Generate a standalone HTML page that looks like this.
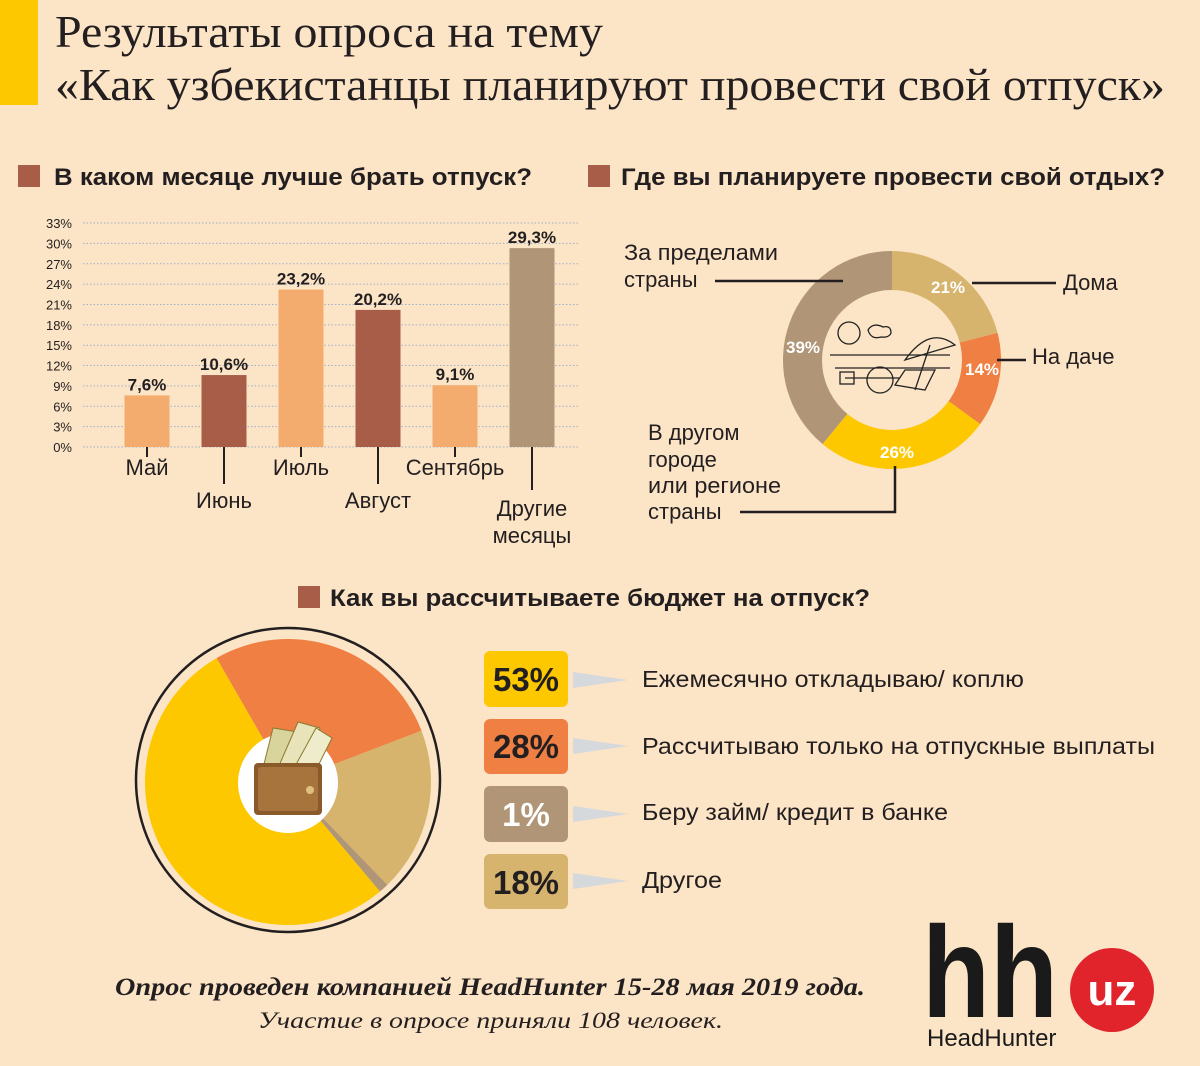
<!DOCTYPE html>
<html><head><meta charset="utf-8"><style>
html,body{margin:0;padding:0;background:#fce4c6;}
svg{display:block}
text{font-family:"Liberation Sans",sans-serif;}
</style></head><body>
<svg id="s" width="1200" height="1066" viewBox="0 0 1200 1066" xmlns="http://www.w3.org/2000/svg">
<rect width="1200" height="1066" fill="#fce4c6"/>
<rect x="0" y="0" width="38" height="105" fill="#fdc800"/>
<text x="55" y="47" font-size="46" fill="#231f20" textLength="548" lengthAdjust="spacingAndGlyphs" style="font-family:'Liberation Serif',serif">Результаты опроса на тему</text>
<text x="55" y="100" font-size="46" fill="#231f20" textLength="1110" lengthAdjust="spacingAndGlyphs" style="font-family:'Liberation Serif',serif">«Как узбекистанцы планируют провести свой отпуск»</text>

<rect x="18" y="165" width="22" height="22" fill="#a85d48"/>
<text x="54" y="185" font-size="24" font-weight="bold" fill="#231f20" textLength="478" lengthAdjust="spacingAndGlyphs">В каком месяце лучше брать отпуск?</text>
<rect x="588" y="165" width="22" height="22" fill="#a85d48"/>
<text x="621" y="185" font-size="24" font-weight="bold" fill="#231f20" textLength="544" lengthAdjust="spacingAndGlyphs">Где вы планируете провести свой отдых?</text>
<rect x="298" y="586" width="22" height="22" fill="#a85d48"/>
<text x="330" y="606" font-size="24" font-weight="bold" fill="#231f20" textLength="540" lengthAdjust="spacingAndGlyphs">Как вы рассчитываете бюджет на отпуск?</text>

<g id="grid"></g>
<g id="bars"></g>

<g id="donut"></g>
<circle cx="892" cy="360" r="70" fill="#fce4c6"/>
<g stroke="#222" stroke-width="1.3" fill="none">
<circle cx="849" cy="333" r="11"/>
<path d="M830 355 H950 M835 368 H950 M845 378 H900"/>
<path d="M905 360 Q930 325 955 345 Z"/>
<path d="M930 345 L915 390 M905 370 L935 370 L925 390 L895 385 Z"/>
<circle cx="880" cy="380" r="13"/>
<rect x="840" y="372" width="14" height="12"/>
<path d="M868 330 q5 -8 15 -3 q8 -2 8 6 q-2 5 -10 4 q-10 3 -13 -7z"/>
</g>
<text fill="#fff" font-weight="bold" font-size="17" text-anchor="middle">
<tspan x="948" y="293">21%</tspan><tspan x="982" y="375">14%</tspan><tspan x="897" y="458">26%</tspan><tspan x="803" y="353">39%</tspan>
</text>
<g font-size="22" fill="#231f20">
<text x="624" y="260" textLength="154" lengthAdjust="spacingAndGlyphs">За пределами</text><text x="624" y="287">страны</text>
<text x="1063" y="290">Дома</text>
<text x="1032" y="364">На даче</text>
<text x="648" y="440">В другом</text><text x="648" y="467">городе</text><text x="648" y="493" textLength="133" lengthAdjust="spacingAndGlyphs">или регионе</text><text x="648" y="519">страны</text>
</g>
<g stroke="#231f20" stroke-width="2.5" fill="none">
<path d="M715 281 H843"/><path d="M972 283 H1056"/><path d="M997 360 H1026"/><path d="M740 512 H895 V466"/>
</g>

<circle cx="288" cy="780" r="152" fill="none" stroke="#231f20" stroke-width="2.5"/>
<g id="pie"></g>
<circle cx="288" cy="783" r="50" fill="#fff"/>
<g>
<polygon points="263,768 273,728 298,732 288,770" fill="#d9d39c" stroke="#8a7a30"/>
<polygon points="278,768 298,722 320,728 306,772" fill="#e8e3b8" stroke="#8a7a30"/>
<polygon points="293,770 316,728 332,738 315,772" fill="#efeccc" stroke="#8a7a30"/>
<rect x="254" y="763" width="68" height="52" rx="4" fill="#8a5a2b"/>
<rect x="258" y="767" width="60" height="44" rx="3" fill="#a8743e"/>
<circle cx="310" cy="790" r="4" fill="#e0c080"/>
</g>

<g font-size="33" font-weight="bold" text-anchor="middle">
<rect x="484" y="651" width="84" height="56" rx="6" fill="#fdc800"/><text x="526" y="691" fill="#231f20">53%</text>
<rect x="484" y="719" width="84" height="55" rx="6" fill="#ef7f42"/><text x="526" y="758" fill="#231f20">28%</text>
<rect x="484" y="786" width="84" height="56" rx="6" fill="#b09576"/><text x="526" y="826" fill="#fff">1%</text>
<rect x="484" y="854" width="84" height="55" rx="6" fill="#d6b46e"/><text x="526" y="894" fill="#231f20">18%</text>
</g>
<g fill="#d5d9dc">
<polygon points="573,672 573,688 628,680"/><polygon points="573,738 573,754 628,746"/>
<polygon points="573,806 573,822 628,814"/><polygon points="573,873 573,889 628,881"/>
</g>
<g font-size="23" fill="#231f20">
<text x="642" y="687" textLength="382" lengthAdjust="spacingAndGlyphs">Ежемесячно откладываю/ коплю</text>
<text x="642" y="754" textLength="513" lengthAdjust="spacingAndGlyphs">Рассчитываю только на отпускные выплаты</text>
<text x="642" y="820" textLength="306" lengthAdjust="spacingAndGlyphs">Беру займ/ кредит в банке</text>
<text x="642" y="888" textLength="80" lengthAdjust="spacingAndGlyphs">Другое</text>
</g>

<text x="115" y="995" font-size="25" font-weight="bold" font-style="italic" fill="#231f20" textLength="750" lengthAdjust="spacingAndGlyphs" style="font-family:'Liberation Serif',serif">Опрос проведен компанией HeadHunter 15-28 мая 2019 года.</text>
<text x="258" y="1028" font-size="23" font-style="italic" fill="#231f20" textLength="465" lengthAdjust="spacingAndGlyphs" style="font-family:'Liberation Serif',serif">Участие в опросе приняли 108 человек.</text>

<text x="922" y="1017" font-size="130" font-weight="bold" fill="#1a1a1a" textLength="136" lengthAdjust="spacingAndGlyphs">hh</text>
<text x="927" y="1046" font-size="24" fill="#1a1a1a">HeadHunter</text>
<circle cx="1112" cy="990" r="42" fill="#e1232b"/>
<text x="1112" y="1005" text-anchor="middle" font-size="44" font-weight="bold" fill="#fff">uz</text>
</svg>
<script>
var NS="http://www.w3.org/2000/svg";
function el(p,t,a,txt){var e=document.createElementNS(NS,t);for(var k in a)e.setAttribute(k,a[k]);if(txt!=null)e.textContent=txt;document.getElementById(p).appendChild(e);return e;}
for(var i=0;i<=11;i++){var y=447-i*20.36;
el("grid","line",{x1:83,x2:580,y1:y,y2:y,stroke:"#9fb0c8","stroke-width":1,"stroke-dasharray":"1.5 2"});
el("grid","text",{x:72,y:y+5,"text-anchor":"end","font-size":13,fill:"#231f20"},(i*3)+"%");}
var vals=[7.6,10.6,23.2,20.2,9.1,29.3],cols=["#f4ab6e","#a85d48","#f4ab6e","#a85d48","#f4ab6e","#b09576"],
lab=["7,6%","10,6%","23,2%","20,2%","9,1%","29,3%"],names=["Май","Июнь","Июль","Август","Сентябрь","Другие"];
for(var j=0;j<6;j++){var cx=147+j*77,h=vals[j]*6.787;
el("bars","rect",{x:cx-22.5,y:447-h,width:45,height:h,fill:cols[j]});
el("bars","text",{x:cx,y:447-h-5,"text-anchor":"middle","font-size":17,"font-weight":"bold",fill:"#231f20"},lab[j]);
var down=(j%2==1);
el("bars","line",{x1:cx,x2:cx,y1:447,y2:down?484:457,stroke:"#231f20","stroke-width":2});
if(j<5)el("bars","text",{x:cx,y:down?508:475,"text-anchor":"middle","font-size":22,fill:"#231f20"},names[j]);}
el("bars","line",{x1:532,x2:532,y1:447,y2:490,stroke:"#231f20","stroke-width":2});
el("bars","text",{x:532,y:516,"text-anchor":"middle","font-size":22,fill:"#231f20"},"Другие");
el("bars","text",{x:532,y:543,"text-anchor":"middle","font-size":22,fill:"#231f20"},"месяцы");
function pt(cx,cy,r,a){a=a*Math.PI/180;return [cx+r*Math.sin(a),cy-r*Math.cos(a)];}
function sector(g,cx,cy,R,a0,a1,c){var p0=pt(cx,cy,R,a0),p1=pt(cx,cy,R,a1),lg=(a1-a0)>180?1:0;
el(g,"path",{d:"M"+cx+","+cy+"L"+p0+"A"+R+","+R+" 0 "+lg+" 1 "+p1+"Z",fill:c});}
var d=[[0,75.6,"#d6b46e"],[75.6,126,"#ef7f42"],[126,219.6,"#fdc800"],[219.6,360,"#b09576"]];
d.forEach(function(s){sector("donut",892,360,109,s[0],s[1],s[2]);});
var p=[[-30,69,"#ef7f42"],[69,136,"#d6b46e"],[136,140,"#b09576"],[140,330,"#fdc800"]];
p.forEach(function(s){sector("pie",288,782,143,s[0],s[1],s[2]);});
</script>
</body></html>
